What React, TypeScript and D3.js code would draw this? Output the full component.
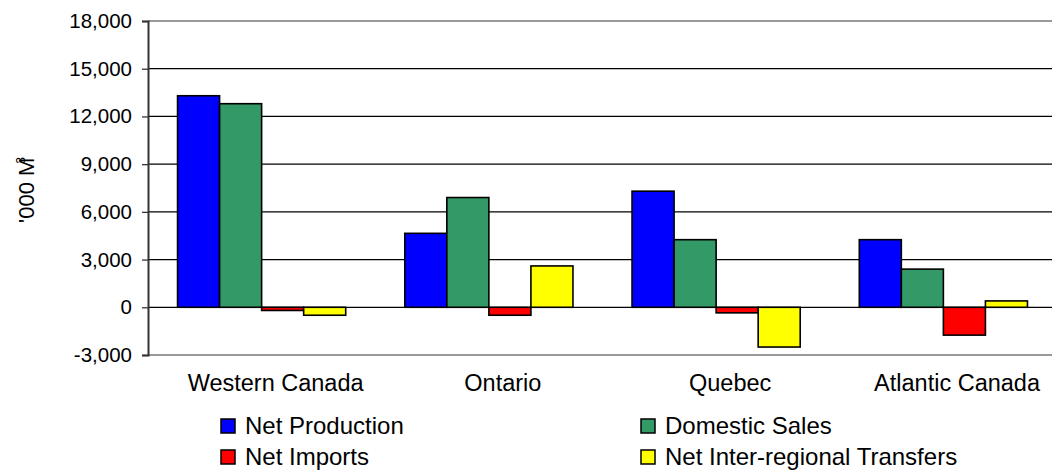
import * as d3 from "d3";
import { useEffect, useRef } from "react";

// regions and series, values in '000 m3
const regions = ["Western Canada", "Ontario", "Quebec", "Atlantic Canada"];
const seriesNames = [
  "Net Production",
  "Domestic Sales",
  "Net Imports",
  "Net Inter-regional Transfers",
];
const seriesColors = ["#0000ff", "#339966", "#ff0000", "#ffff00"];
const netProduction = [13300, 4650, 7300, 4250];
const domesticSales = [12800, 6900, 4250, 2400];
const netImports = [-200, -500, -350, -1750];
const netTransfers = [-500, 2600, -2500, 400];
const yTicks = [-3000, 0, 3000, 6000, 9000, 12000, 15000, 18000];

const W = 1052;
const H = 472;
const FONT = "'Liberation Sans', Arial, sans-serif";

export default function App() {
  const ref = useRef<SVGSVGElement>(null);

  useEffect(() => {
    const svg = d3.select(ref.current);
    svg.selectAll("*").remove();

    const series = [netProduction, domesticSales, netImports, netTransfers];

    // plot area
    const left = 148;
    const right = 1057;
    const top = 21;
    const bottom = 355;

    const y = d3.scaleLinear().domain([-3000, 18000]).range([bottom, top]);
    const x = d3
      .scaleBand<string>()
      .domain(regions)
      .range([left, right])
      .paddingInner(0.26)
      .paddingOuter(0.13);
    const xs = d3
      .scaleBand<number>()
      .domain(d3.range(series.length))
      .range([0, x.bandwidth()]);

    // gridlines
    svg
      .append("g")
      .selectAll("line")
      .data(yTicks)
      .enter()
      .append("line")
      .attr("x1", left)
      .attr("x2", W)
      .attr("y1", (d) => y(d))
      .attr("y2", (d) => y(d))
      .attr("stroke", (d) => (d === -3000 || d === 18000 ? "#999" : "#000"))
      .attr("stroke-width", (d) => (d === -3000 || d === 18000 ? 2 : 1.3));

    // bars
    series.forEach((vals, si) => {
      svg
        .append("g")
        .selectAll("rect")
        .data(vals)
        .enter()
        .append("rect")
        .attr("x", (_, i) => x(regions[i])! + xs(si)!)
        .attr("width", xs.bandwidth())
        .attr("y", (d) => y(Math.max(0, d)))
        .attr("height", (d) => Math.abs(y(d) - y(0)))
        .attr("fill", seriesColors[si])
        .attr("stroke", "#000")
        .attr("stroke-width", 1.6);
    });

    // y axis
    const fmt = d3.format(",");
    const yAxis = d3
      .axisLeft(y)
      .tickValues(yTicks)
      .tickSize(6)
      .tickPadding(10)
      .tickFormat((d) => fmt(d as number).replace("\u2212", "-"));
    const ga = svg
      .append("g")
      .attr("transform", `translate(${left},0)`)
      .call(yAxis);
    ga.select(".domain").attr("stroke", "#333").attr("stroke-width", 2);
    ga.selectAll(".tick line").attr("stroke", "#333").attr("stroke-width", 1.3);
    ga.selectAll(".tick text")
      .attr("font-family", FONT)
      .attr("font-size", 20.5)
      .attr("fill", "#000");

    // category labels, kept inside the right edge
    svg
      .append("g")
      .selectAll("text")
      .data(regions)
      .enter()
      .append("text")
      .attr("y", 391)
      .attr("text-anchor", "middle")
      .attr("font-family", FONT)
      .attr("font-size", 23.5)
      .text((d) => d)
      .attr("x", function (d) {
        const half = (this as SVGTextElement).getComputedTextLength() / 2;
        return Math.min(x(d)! + x.bandwidth() / 2 + 14, W - 12 - half);
      });

    // y label
    const yl = svg
      .append("text")
      .attr("transform", `translate(34,190) rotate(-90)`)
      .attr("text-anchor", "middle")
      .attr("font-family", FONT)
      .attr("font-size", 22);
    yl.append("tspan").text("'000 M");
    yl.append("tspan")
      .attr("dx", -6)
      .attr("dy", -9)
      .attr("font-size", 12)
      .text("3");

    // legend
    const legendX = [221, 641];
    const legendY = [426, 457];
    const lg = svg
      .append("g")
      .selectAll("g")
      .data(seriesNames)
      .enter()
      .append("g")
      .attr(
        "transform",
        (_, i) => `translate(${legendX[i % 2]},${legendY[Math.floor(i / 2)]})`
      );
    lg.append("rect")
      .attr("x", 0)
      .attr("y", -7)
      .attr("width", 14)
      .attr("height", 14)
      .attr("fill", (_, i) => seriesColors[i])
      .attr("stroke", "#000")
      .attr("stroke-width", 1.5);
    lg.append("text")
      .attr("x", 24)
      .attr("y", 7.5)
      .attr("font-family", FONT)
      .attr("font-size", 24)
      .text((d) => d);
  }, []);

  return (
    <svg
      ref={ref}
      width={W}
      height={H}
      style={{ position: "absolute", left: 0, top: 0, background: "#fff" }}
    />
  );
}
